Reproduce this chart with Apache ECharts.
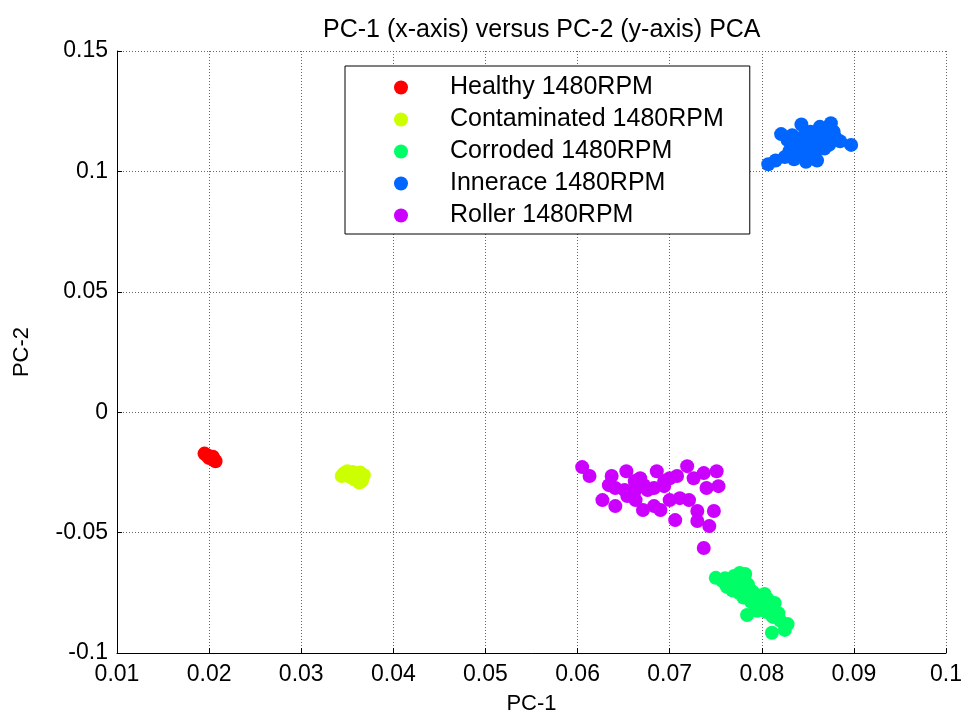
<!DOCTYPE html>
<html>
<head>
<meta charset="utf-8">
<script src="https://cdn.jsdelivr.net/npm/echarts@6/dist/echarts.min.js"></script>
<style>
    html, body { margin: 0; padding: 0; background: #fff; }
    #chart { width: 965px; height: 720px; }
</style>
</head>
<body>
<div id="chart"></div>
<script>
// legend names and colours (MATLAB hsv(5))
const seriesNames = ["Healthy 1480RPM", "Contaminated 1480RPM", "Corroded 1480RPM", "Innerace 1480RPM", "Roller 1480RPM"];
const seriesColors = ["#ff0000", "#ccff00", "#00ff66", "#0066ff", "#cc00ff"];

// [PC-1, PC-2]
const healthy = [
    [0.0195, -0.0172], [0.0197, -0.0178], [0.0199, -0.0181], [0.0201, -0.0185], [0.0203, -0.0190],
    [0.0205, -0.0195], [0.0206, -0.0200], [0.0207, -0.0204], [0.0200, -0.0190], [0.0204, -0.0185]
];
const contaminated = [
    [0.0346, -0.0255], [0.0352, -0.0262], [0.0356, -0.0248], [0.0360, -0.0256], [0.0362, -0.0268],
    [0.0365, -0.0275], [0.0366, -0.0285], [0.0363, -0.0292], [0.0358, -0.0280], [0.0354, -0.0270],
    [0.0368, -0.0262], [0.0344, -0.0265], [0.0350, -0.0245], [0.0364, -0.0250]
];
const corroded = [
    [0.0750, -0.0688], [0.0760, -0.0690], [0.0770, -0.0680], [0.0776, -0.0668], [0.0782, -0.0672],
    [0.0765, -0.0710], [0.0772, -0.0720], [0.0778, -0.0700], [0.0785, -0.0715], [0.0768, -0.0740],
    [0.0775, -0.0750], [0.0782, -0.0740], [0.0790, -0.0745], [0.0795, -0.0760], [0.0780, -0.0770],
    [0.0788, -0.0785], [0.0798, -0.0780], [0.0803, -0.0755], [0.0806, -0.0775], [0.0814, -0.0792],
    [0.0808, -0.0800], [0.0800, -0.0810], [0.0795, -0.0825], [0.0784, -0.0842], [0.0805, -0.0830],
    [0.0812, -0.0850], [0.0818, -0.0835], [0.0811, -0.0916], [0.0825, -0.0904], [0.0828, -0.0880],
    [0.0820, -0.0865], [0.0792, -0.0800], [0.0762, -0.0725], [0.0757, -0.0700]
];
const innerace = [
    [0.0807, 0.1030], [0.0897, 0.1110], [0.0821, 0.1155], [0.0843, 0.1195], [0.0875, 0.1200],
    [0.0830, 0.1085], [0.0835, 0.1050], [0.0840, 0.1070], [0.0845, 0.1100], [0.0850, 0.1120],
    [0.0855, 0.1140], [0.0860, 0.1160], [0.0865, 0.1150], [0.0870, 0.1130], [0.0880, 0.1140],
    [0.0885, 0.1125], [0.0852, 0.1060], [0.0858, 0.1080], [0.0862, 0.1100], [0.0868, 0.1095],
    [0.0848, 0.1040], [0.0838, 0.1120], [0.0828, 0.1130], [0.0853, 0.1165], [0.0870, 0.1175],
    [0.0878, 0.1165], [0.0845, 0.1145], [0.0835, 0.1100], [0.0825, 0.1060], [0.0815, 0.1045],
    [0.0860, 0.1045], [0.0873, 0.1110], [0.0857, 0.1125], [0.0863, 0.1185], [0.0833, 0.1150]
];
const roller = [
    [0.0605, -0.0228], [0.0613, -0.0265], [0.0637, -0.0265], [0.0653, -0.0245], [0.0634, -0.0303],
    [0.0641, -0.0315], [0.0627, -0.0365], [0.0641, -0.0390], [0.0654, -0.0348], [0.0663, -0.0365],
    [0.0662, -0.0286], [0.0668, -0.0274], [0.0672, -0.0303], [0.0671, -0.0406], [0.0686, -0.0245],
    [0.0683, -0.0315], [0.0683, -0.0390], [0.0690, -0.0406], [0.0694, -0.0286], [0.0700, -0.0274],
    [0.0708, -0.0265], [0.0700, -0.0365], [0.0711, -0.0357], [0.0719, -0.0224], [0.0721, -0.0365],
    [0.0706, -0.0448], [0.0726, -0.0274], [0.0737, -0.0253], [0.0751, -0.0245], [0.0740, -0.0315],
    [0.0753, -0.0307], [0.0730, -0.0410], [0.0748, -0.0410], [0.0730, -0.0452], [0.0743, -0.0473],
    [0.0737, -0.0564], [0.0651, -0.0323], [0.0662, -0.0328], [0.0676, -0.0323], [0.0694, -0.0307]
];
const seriesData = [healthy, contaminated, corroded, innerace, roller];

const chart = echarts.init(document.getElementById("chart"));
const font = "Liberation Sans";
const gridLine = { show: true, lineStyle: { color: "#666", type: [1, 2], width: 1 } };

chart.setOption({
    backgroundColor: "#fff",
    animation: false,
    title: {
        text: "PC-1 (x-axis) versus PC-2 (y-axis) PCA",
        left: 318,
        top: 13,
        textStyle: { fontFamily: font, fontSize: 25, fontWeight: "normal", color: "#000" }
    },
    legend: {
        orient: "vertical",
        left: 345,
        top: 66,
        padding: [9, 26, 6, 49],
        itemGap: 7,
        itemWidth: 14,
        itemHeight: 14,
        icon: "circle",
        backgroundColor: "#fff",
        borderColor: "#000",
        borderWidth: 1,
        borderRadius: 0,
        textStyle: { fontFamily: font, fontSize: 25, lineHeight: 24, color: "#000", padding: [0, 0, 0, 37] },
        data: seriesNames
    },
    grid: { left: 117, right: 18, top: 51, bottom: 63, containLabel: false },
    xAxis: {
        type: "value",
        min: 0.01,
        max: 0.1,
        interval: 0.01,
        name: "PC-1",
        nameLocation: "middle",
        nameGap: 40,
        nameTextStyle: { fontFamily: font, fontSize: 22, color: "#000" },
        axisLine: { show: true, onZero: false, lineStyle: { color: "#000" } },
        axisTick: { show: true, inside: true, length: 5, lineStyle: { color: "#000" } },
        axisLabel: { fontFamily: font, fontSize: 23, color: "#000", margin: 10, showMaxLabel: true, showMinLabel: true },
        splitLine: gridLine
    },
    yAxis: {
        type: "value",
        min: -0.1,
        max: 0.15,
        interval: 0.05,
        name: "PC-2",
        nameLocation: "middle",
        nameGap: 84,
        nameTextStyle: { fontFamily: font, fontSize: 22, color: "#000" },
        axisLine: { show: true, onZero: false, lineStyle: { color: "#000" } },
        axisTick: { show: true, inside: true, length: 5, lineStyle: { color: "#000" } },
        axisLabel: { fontFamily: font, fontSize: 23, color: "#000", margin: 9 },
        splitLine: gridLine
    },
    series: seriesNames.map((name, i) => ({
        name: name,
        type: "scatter",
        symbol: "circle",
        symbolSize: 14,
        itemStyle: { color: seriesColors[i], opacity: 1 },
        data: seriesData[i]
    }))
});
</script>
</body>
</html>
